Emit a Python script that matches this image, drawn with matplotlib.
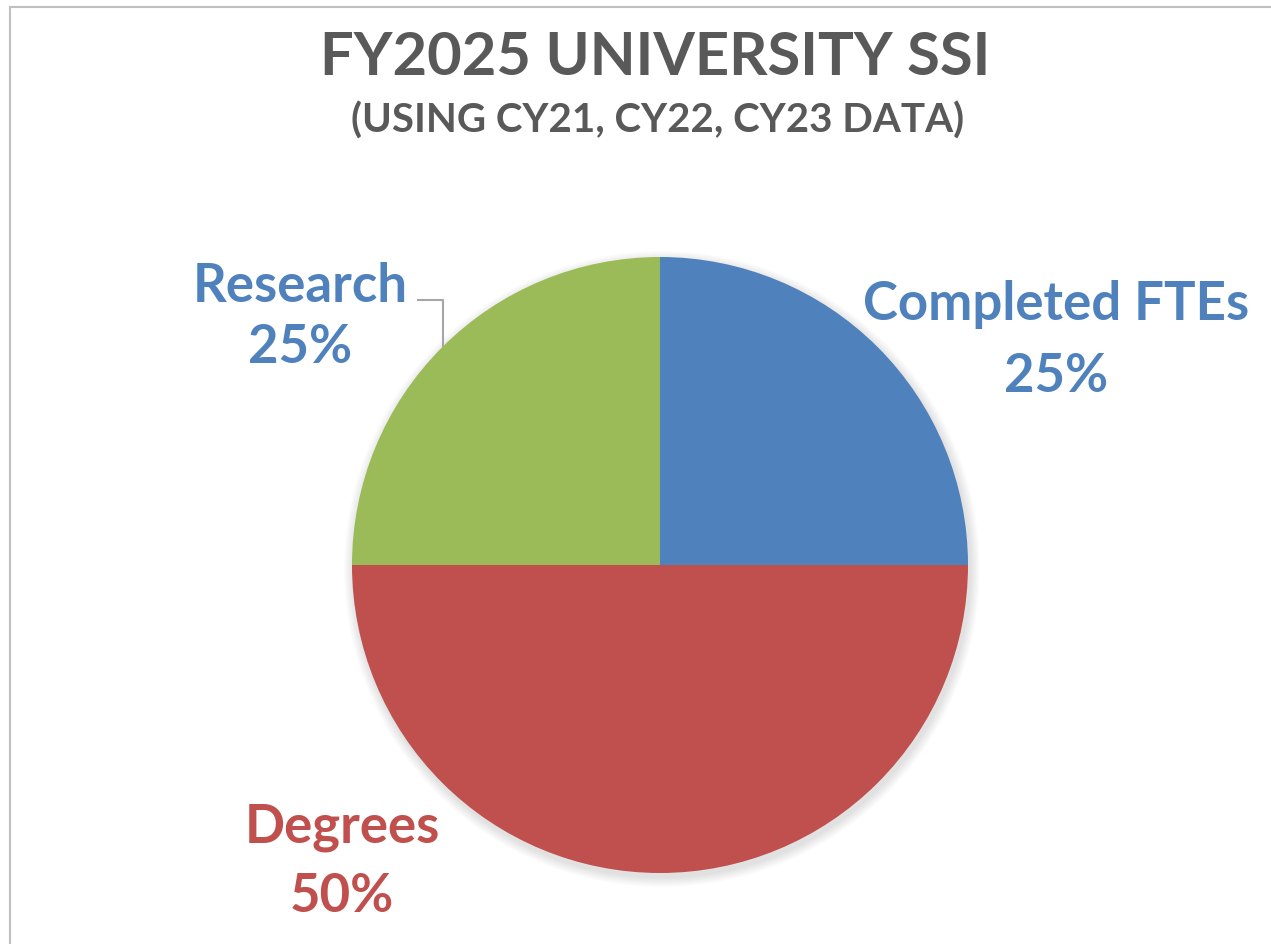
import matplotlib.pyplot as plt
from matplotlib.patches import Circle, Rectangle

# slice data (clockwise from 12 o'clock)
categories = ["Completed FTEs", "Degrees", "Research"]
shares = [25, 50, 25]
colors = ["#4F81BD", "#C0504D", "#9BBB59"]
title = "FY2025 UNIVERSITY SSI"
subtitle = "(USING CY21, CY22, CY23 DATA)"

W, H = 1271, 944
fig = plt.figure(figsize=(W / 100, H / 100), dpi=100)
ax = fig.add_axes([0, 0, 1, 1])
ax.set_xlim(0, W)
ax.set_ylim(0, H)
ax.set_aspect("equal")
ax.axis("off")

def y(py):
    # image rows -> data y
    return H - py

# chart border (right/bottom cut off in the screenshot)
ax.add_patch(Rectangle((10, y(1000)), 1400, 993, fill=False, ec="#BFBFBF", lw=1.5))

cx, cy, r = 660, y(565), 308

# soft shadow
for k in range(10):
    ax.add_patch(Circle((cx + 2, cy - 4), r + 10 - k, color="#000000", alpha=0.012, lw=0))

ax.pie(shares, colors=colors, startangle=90, counterclock=False,
       center=(cx, cy), radius=r, frame=True,
       wedgeprops=dict(linewidth=0))
ax.set_xlim(0, W)
ax.set_ylim(0, H)
ax.axis("off")

font = "Lato"
ax.text(655, y(75), title, ha="center", va="baseline", fontsize=43,
        fontweight="bold", color="#595959", family=font)
ax.text(658, y(133), subtitle, ha="center", va="baseline", fontsize=29,
        fontweight="bold", color="#595959", family=font)

label_pos = {
    "Completed FTEs": (1056, 320, 392),
    "Degrees": (342, 842, 912),
    "Research": (300, 302, 363),
}
for name, val, col in zip(categories, shares, colors):
    lx, b1, b2 = label_pos[name]
    tc = "#C0504D" if name == "Degrees" else "#4F81BD"
    ax.text(lx, y(b1), name, ha="center", va="baseline", fontsize=38,
            fontweight="bold", color=tc, family=font)
    ax.text(lx, y(b2), f"{val}%", ha="center", va="baseline", fontsize=38,
            fontweight="bold", color=tc, family=font)

# leader line for Research
ax.plot([418, 443, 443], [y(300), y(300), y(346)], color="#A6A6A6", lw=1.5)

fig.savefig("out.png", dpi=100)
